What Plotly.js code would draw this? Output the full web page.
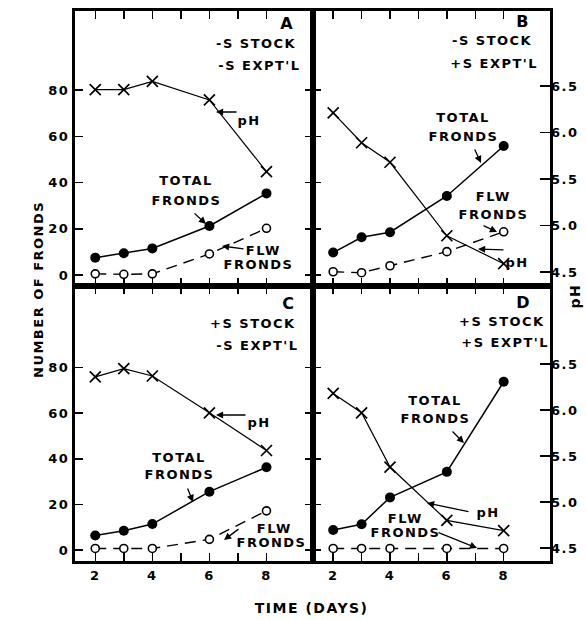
<!DOCTYPE html>
<html>
<head>
<meta charset="utf-8">
<script src="https://cdn.plot.ly/plotly-3.0.1.min.js"></script>
<style>
html,body{margin:0;padding:0;background:#fff;}
#chart{width:586px;height:620px;}
.main-svg text{letter-spacing:1.5px;}
</style>
</head>
<body>
<div id="chart"></div>
<script>
// ---- data ----
const days = [2, 3, 4, 6, 8];
const tickDays = [2, 3, 4, 5, 6, 7, 8];
const tickDayLabels = ['2', '', '4', '', '6', '', '8'];
const frondTicks = [0, 20, 40, 60, 80];
const phTicks = [4.5, 5.0, 5.5, 6.0, 6.5];
const phTickLabels = ['4.5', '5.0', '5.5', '6.0', '6.5'];

const A_total = [7.5, 9.4, 11.5, 21.2, 35.3];
const A_flw   = [0.5, 0.3, 0.5, 9.1, 20.2];
const A_pH    = [6.46, 6.46, 6.55, 6.35, 5.58];

const B_total = [9.7, 16.3, 18.5, 34.2, 55.8];
const B_flw   = [1.4, 1.0, 4.0, 10.1, 18.7];
const B_pH    = [6.21, 5.89, 5.68, 4.89, 4.59];

const C_total = [6.4, 8.5, 11.4, 25.6, 36.3];
const C_flw   = [0.7, 0.7, 0.7, 4.7, 17.2];
const C_pH    = [6.36, 6.45, 6.37, 5.97, 5.56];

const D_total = [8.8, 11.3, 23.1, 34.3, 73.8];
const D_flw   = [0.7, 0.7, 0.7, 0.7, 0.7];
const D_pH    = [6.18, 5.97, 5.38, 4.80, 4.69];

const panelLetters = ['A', 'B', 'C', 'D'];
const stockLabels = ['-S STOCK', '-S STOCK', '+S STOCK', '+S STOCK'];
const exptLabels  = ["-S EXPT'L", "+S EXPT'L", "-S EXPT'L", "+S EXPT'L"];

// ---- styling ----
const FONT = 'DejaVu Sans, Arial, sans-serif';
const ink = '#000';

function panelTraces(total, flw, ph, xa, ya, yph) {
  return [
    {x: days, y: ph, xaxis: xa, yaxis: yph, type: 'scatter', mode: 'lines+markers',
     line: {color: ink, width: 1.2},
     marker: {symbol: 'x-thin', size: 11, line: {color: ink, width: 1.7}}, showlegend: false},
    {x: days, y: total, xaxis: xa, yaxis: ya, type: 'scatter', mode: 'lines+markers',
     line: {color: ink, width: 1.5},
     marker: {symbol: 'circle', size: 10, color: ink}, showlegend: false},
    {x: days, y: flw, xaxis: xa, yaxis: ya, type: 'scatter', mode: 'lines+markers',
     line: {color: ink, width: 1.4, dash: '11px,7px'},
     marker: {symbol: 'circle', size: 8, color: '#fff', line: {color: ink, width: 1.6}}, showlegend: false}
  ];
}

const data = [].concat(
  panelTraces(A_total, A_flw, A_pH, 'x', 'y', 'y5'),
  panelTraces(B_total, B_flw, B_pH, 'x2', 'y2', 'y6'),
  panelTraces(C_total, C_flw, C_pH, 'x3', 'y3', 'y7'),
  panelTraces(D_total, D_flw, D_pH, 'x4', 'y4', 'y8')
);

const L = 75, R = 550, T = 11, B = 561;
const W = R - L, H = B - T;
const px = v => (v - L) / W;
const py = v => (B - v) / H;
const xSplit = px(313);

function xAxis(dom, anchor, bottom) {
  return {domain: dom, anchor: anchor, range: [1.29, 9.63], tickmode: 'array',
    tickvals: tickDays, ticktext: bottom ? tickDayLabels : tickDays.map(() => ''),
    ticks: 'inside', ticklen: 8, tickwidth: 1.5, tickcolor: ink,
    showline: true, linewidth: 3, linecolor: ink, mirror: 'ticks',
    showgrid: false, zeroline: false,
    tickfont: {family: FONT, size: 13, color: ink, weight: 'bold'}};
}
function yAxis(dom, anchor, range, labels, mirror) {
  return {domain: dom, anchor: anchor, range: range, tickmode: 'array',
    tickvals: frondTicks, ticktext: labels ? frondTicks.map(String) : frondTicks.map(() => ''),
    ticks: 'inside', ticklen: 8, tickwidth: 1.5, tickcolor: ink,
    showline: true, linewidth: 3, linecolor: ink, mirror: mirror,
    showgrid: false, zeroline: false,
    tickfont: {family: FONT, size: 13, color: ink, weight: 'bold'}};
}
function phAxis(over, anchor, range, show) {
  return {overlaying: over, anchor: anchor, side: 'right', range: range,
    visible: show, tickmode: 'array', tickvals: phTicks, ticktext: phTickLabels,
    ticks: 'inside', ticklen: 10, tickwidth: 1.5, tickcolor: ink,
    showline: false, showgrid: false, zeroline: false,
    tickfont: {family: FONT, size: 13, color: ink, weight: 'bold'}};
}

const topY = [-4.76, 114.2], botY = [-4.8, 115.8];
const topPH = [4.35, 7.306], botPH = [4.359, 7.348];

const annotations = [];
function txt(cx, cy, t, size, opts) {
  annotations.push(Object.assign({x: px(cx), y: py(cy), xref: 'paper', yref: 'paper',
    text: t, showarrow: false, xanchor: 'center', yanchor: 'middle',
    font: {family: FONT, size: size || 13, color: ink, weight: 'bold'}}, opts || {}));
}
function arrow(tx, ty, hx, hy) {
  annotations.push({x: px(hx), y: py(hy), xref: 'paper', yref: 'paper', text: '',
    showarrow: true, ax: tx - hx, ay: ty - hy, arrowhead: 2, arrowsize: 1.1,
    arrowwidth: 1.3, arrowcolor: ink, standoff: 0, startstandoff: 0});
}

// panel letters and conditions
txt(287, 23, panelLetters[0], 16); txt(523, 21, panelLetters[1], 16);
txt(289, 303, panelLetters[2], 16); txt(523, 302, panelLetters[3], 16);
txt(256, 43, stockLabels[0]); txt(259, 66, exptLabels[0]);
txt(492, 40, stockLabels[1]); txt(494, 63, exptLabels[1]);
txt(253, 323, stockLabels[2]); txt(257, 345, exptLabels[2]);
txt(502, 321, stockLabels[3]); txt(505, 342, exptLabels[3]);

// Panel A labels
txt(186, 180, 'TOTAL'); txt(186, 200, 'FRONDS'); arrow(193, 212, 206, 224);
txt(249, 120, 'pH'); arrow(238, 112, 216, 112);
txt(263, 250, 'FLW'); txt(258, 264, 'FRONDS'); arrow(245, 249, 222, 246);
// Panel B labels
txt(463, 117, 'TOTAL'); txt(463, 136, 'FRONDS'); arrow(474, 148, 481, 163);
txt(493, 197, 'FLW'); txt(493, 214, 'FRONDS'); arrow(482, 225, 497, 232);
txt(517, 262, 'pH'); arrow(505, 250, 478, 249);
// Panel C labels
txt(179, 457, 'TOTAL'); txt(179, 474, 'FRONDS'); arrow(187, 487, 193, 502);
txt(259, 423, 'pH'); arrow(247, 415, 216, 415);
txt(274, 528, 'FLW'); txt(271, 542, 'FRONDS'); arrow(240, 528, 224, 540);
// Panel D labels
txt(435, 400, 'TOTAL'); txt(435, 418, 'FRONDS'); arrow(451, 430, 464, 443);
txt(488, 512, 'pH'); arrow(470, 512, 427, 503);
txt(405, 518, 'FLW'); txt(405, 532, 'FRONDS'); arrow(437, 532, 477, 548);

// axis titles
txt(38, 290, 'NUMBER OF FRONDS', 13, {textangle: -90});
txt(575, 296, 'pH', 14, {textangle: -90});
txt(311, 608, 'TIME (DAYS)', 14);

const layout = {
  width: 586, height: 620,
  margin: {l: L, r: 586 - R, t: T, b: 620 - B, pad: 0},
  paper_bgcolor: '#fff', plot_bgcolor: 'rgba(0,0,0,0)',
  font: {family: FONT, color: ink},
  showlegend: false,
  xaxis:  xAxis([0, xSplit], 'y', false),
  xaxis2: xAxis([xSplit, 1], 'y2', false),
  xaxis3: xAxis([0, xSplit], 'y3', true),
  xaxis4: xAxis([xSplit, 1], 'y4', true),
  yaxis:  yAxis([0.5, 1], 'x', topY, true, 'ticks'),
  yaxis2: yAxis([0.5, 1], 'x2', topY, false, true),
  yaxis3: yAxis([0, 0.5], 'x3', botY, true, 'ticks'),
  yaxis4: yAxis([0, 0.5], 'x4', botY, false, true),
  yaxis5: phAxis('y', 'x', topPH, false),
  yaxis6: phAxis('y2', 'x2', topPH, true),
  yaxis7: phAxis('y3', 'x3', botPH, false),
  yaxis8: phAxis('y4', 'x4', botPH, true),
  annotations: annotations
};

Plotly.newPlot('chart', data, layout, {staticPlot: true, displayModeBar: false});
</script>
</body>
</html>
